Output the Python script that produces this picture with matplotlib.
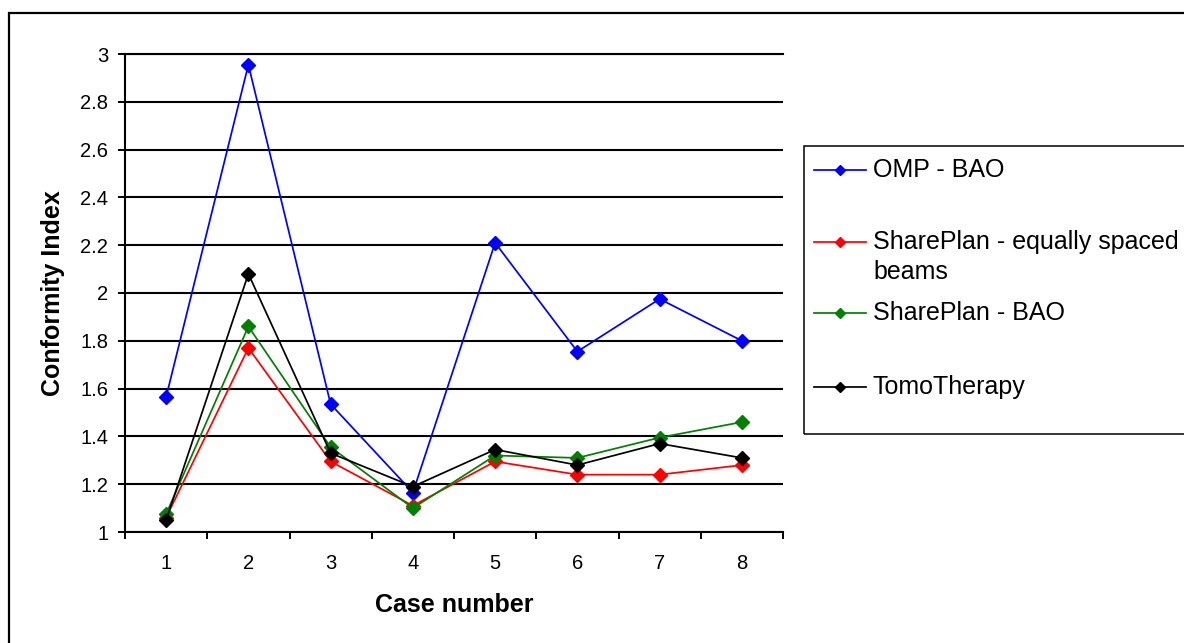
import matplotlib
matplotlib.use("Agg")
import matplotlib.pyplot as plt
from matplotlib.lines import Line2D
from matplotlib.patches import Rectangle
from matplotlib.ticker import FixedLocator, FuncFormatter

plt.rcParams["font.family"] = ["Liberation Sans", "DejaVu Sans"]

cases = [1, 2, 3, 4, 5, 6, 7, 8]
omp_bao = [1.565, 2.955, 1.535, 1.165, 2.21, 1.755, 1.975, 1.80]
shareplan_equal = [1.06, 1.77, 1.295, 1.11, 1.295, 1.24, 1.24, 1.28]
shareplan_bao = [1.075, 1.86, 1.355, 1.10, 1.32, 1.31, 1.395, 1.46]
tomotherapy = [1.05, 2.08, 1.33, 1.19, 1.345, 1.28, 1.37, 1.31]

series_labels = ["OMP - BAO", "SharePlan - equally spaced\nbeams",
                 "SharePlan - BAO", "TomoTherapy"]
series_values = [omp_bao, shareplan_equal, shareplan_bao, tomotherapy]
series_colors = ["#0000FF", "#FF0000", "#008000", "#000000"]
y_ticks = [1.0, 1.2, 1.4, 1.6, 1.8, 2.0, 2.2, 2.4, 2.6, 2.8, 3.0]

W, H = 1184, 643
fig = plt.figure(figsize=(W / 100, H / 100), dpi=100)


def fx(px):
    return px / W


def fy(py):
    return 1 - py / H


ax = fig.add_axes([fx(125), fy(532), fx(783) - fx(125), fy(54) - fy(532)])

for vals, col in zip(series_values, series_colors):
    ax.plot(cases, vals, color=col, lw=1.25, marker="D", markersize=7,
            markeredgecolor=col, markerfacecolor=col, clip_on=False, zorder=3)

ax.set_xlim(0.5, 8.5)
ax.set_ylim(1, 3)
ax.set_xticks(cases)
ax.set_xticklabels([str(c) for c in cases])
ax.xaxis.set_minor_locator(FixedLocator([c - 0.5 for c in cases] + [8.5]))
ax.tick_params(axis="x", which="major", length=0, pad=16, labelsize=14.5)
ax.tick_params(axis="x", which="minor", length=5, width=1.4, direction="out")
ax.set_yticks(y_ticks)
ax.yaxis.set_major_formatter(FuncFormatter(lambda v, p: f"{v:g}"))
ax.tick_params(axis="y", length=5, width=1.4, direction="out", pad=7,
               labelsize=14.5)

ax.grid(axis="y", color="black", lw=1.5, zorder=1)
ax.set_axisbelow(True)
ax.spines["right"].set_visible(False)
for side in ("top", "left", "bottom"):
    ax.spines[side].set_linewidth(1.5)

ax.text(-0.109, 0.5, "Conformity Index", transform=ax.transAxes,
        rotation=90, ha="center", va="center", fontsize=18,
        fontweight="bold")
fig.text(fx(454), fy(605), "Case number", ha="center", va="center",
         fontsize=18, fontweight="bold")

# outer chart frame
fig.patches.append(Rectangle((fx(9), fy(700)), fx(1300), fy(13) - fy(700),
                             transform=fig.transFigure, fill=False,
                             ec="black", lw=1.6))

# legend box with entries
fig.patches.append(Rectangle((fx(804), fy(434)), fx(500), fy(146) - fy(434),
                             transform=fig.transFigure, fill=False,
                             ec="black", lw=1.1))
entry_y = [170, 242, 313, 387]
for lab, col, ey in zip(series_labels, series_colors, entry_y):
    fig.lines.append(Line2D([fx(814), fx(866)], [fy(ey), fy(ey)],
                            transform=fig.transFigure, color=col, lw=1.25))
    fig.lines.append(Line2D([fx(840)], [fy(ey)], transform=fig.transFigure,
                            marker="D", markersize=5.5, color=col, lw=0))
    fig.text(fx(873), fy(ey - 12), lab, ha="left", va="top", fontsize=18,
             linespacing=1.33)

fig.savefig("out.png", dpi=100)
